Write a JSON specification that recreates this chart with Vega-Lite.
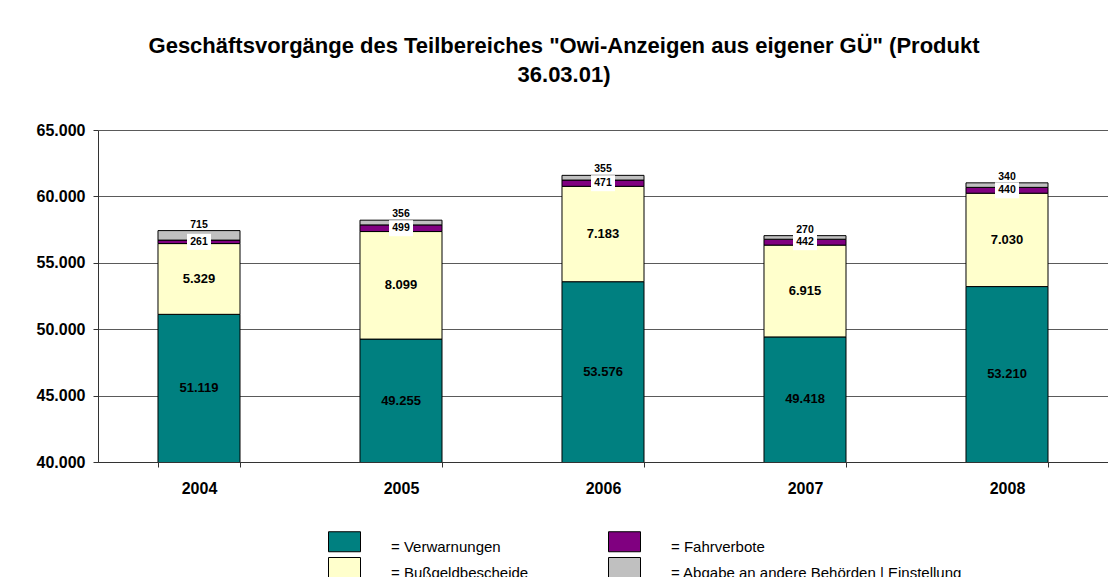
{
  "$schema": "https://vega.github.io/schema/vega-lite/v6.json",
  "width": 1010,
  "height": 332,
  "autosize": "none",
  "padding": {"left": 98, "top": 130, "right": 0, "bottom": 115},
  "background": "white",
  "config": {
    "font": "Liberation Sans",
    "view": {"stroke": null},
    "locale": {"number": {"decimal": ",", "thousands": ".", "grouping": [3], "currency": ["", " €"]}}
  },
  "title": {
    "text": ["Geschäftsvorgänge des Teilbereiches \"Owi-Anzeigen aus eigener GÜ\" (Produkt", "36.03.01)"],
    "fontSize": 22,
    "fontWeight": "bold",
    "lineHeight": 29,
    "color": "black",
    "anchor": "middle",
    "frame": "bounds",
    "dx": -8,
    "offset": 35
  },
  "data": {
    "values": [
      {"Jahr": "2004", "Kategorie": "Verwarnungen", "ord": 1, "Anzahl": 51119},
      {"Jahr": "2004", "Kategorie": "Bußgeldbescheide", "ord": 2, "Anzahl": 5329},
      {"Jahr": "2004", "Kategorie": "Fahrverbote", "ord": 3, "Anzahl": 261},
      {"Jahr": "2004", "Kategorie": "Abgabe an andere Behörden | Einstellung", "ord": 4, "Anzahl": 715},
      {"Jahr": "2005", "Kategorie": "Verwarnungen", "ord": 1, "Anzahl": 49255},
      {"Jahr": "2005", "Kategorie": "Bußgeldbescheide", "ord": 2, "Anzahl": 8099},
      {"Jahr": "2005", "Kategorie": "Fahrverbote", "ord": 3, "Anzahl": 499},
      {"Jahr": "2005", "Kategorie": "Abgabe an andere Behörden | Einstellung", "ord": 4, "Anzahl": 356},
      {"Jahr": "2006", "Kategorie": "Verwarnungen", "ord": 1, "Anzahl": 53576},
      {"Jahr": "2006", "Kategorie": "Bußgeldbescheide", "ord": 2, "Anzahl": 7183},
      {"Jahr": "2006", "Kategorie": "Fahrverbote", "ord": 3, "Anzahl": 471},
      {"Jahr": "2006", "Kategorie": "Abgabe an andere Behörden | Einstellung", "ord": 4, "Anzahl": 355},
      {"Jahr": "2007", "Kategorie": "Verwarnungen", "ord": 1, "Anzahl": 49418},
      {"Jahr": "2007", "Kategorie": "Bußgeldbescheide", "ord": 2, "Anzahl": 6915},
      {"Jahr": "2007", "Kategorie": "Fahrverbote", "ord": 3, "Anzahl": 442},
      {"Jahr": "2007", "Kategorie": "Abgabe an andere Behörden | Einstellung", "ord": 4, "Anzahl": 270},
      {"Jahr": "2008", "Kategorie": "Verwarnungen", "ord": 1, "Anzahl": 53210},
      {"Jahr": "2008", "Kategorie": "Bußgeldbescheide", "ord": 2, "Anzahl": 7030},
      {"Jahr": "2008", "Kategorie": "Fahrverbote", "ord": 3, "Anzahl": 440},
      {"Jahr": "2008", "Kategorie": "Abgabe an andere Behörden | Einstellung", "ord": 4, "Anzahl": 340}
    ]
  },
  "transform": [
    {"stack": "Anzahl", "groupby": ["Jahr"], "sort": [{"field": "ord", "order": "ascending"}], "as": ["y0", "y1"]},
    {"calculate": "(max(datum.y0, 40000) + datum.y1) / 2", "as": "mid"}
  ],
  "encoding": {
    "x": {
      "field": "Jahr",
      "type": "nominal",
      "title": null,
      "scale": {"paddingInner": 0.594, "paddingOuter": 0.297},
      "axis": {
        "labelAngle": 0,
        "labelFontSize": 16,
        "labelFontWeight": "bold",
        "labelColor": "black",
        "labelPadding": 13,
        "tickBand": "extent",
        "tickSize": 5,
        "tickColor": "#333333",
        "domainColor": "#333333",
        "grid": false
      }
    }
  },
  "layer": [
    {
      "mark": {"type": "bar", "clip": true, "stroke": "black", "strokeWidth": 1},
      "encoding": {
        "y": {
          "field": "y1",
          "type": "quantitative",
          "title": null,
          "scale": {"domain": [40000, 65000], "nice": false, "zero": false},
          "axis": {
            "values": [40000, 45000, 50000, 55000, 60000, 65000],
            "format": ",d",
            "labelFontSize": 16,
            "labelFontWeight": "bold",
            "labelColor": "black",
            "labelPadding": 8,
            "tickSize": 5,
            "tickColor": "#333333",
            "domainColor": "#333333",
            "gridColor": "#5a5a5a",
            "gridOpacity": 1
          }
        },
        "y2": {"field": "y0"},
        "color": {
          "field": "Kategorie",
          "type": "nominal",
          "scale": {
            "domain": ["Verwarnungen", "Fahrverbote", "Bußgeldbescheide", "Abgabe an andere Behörden | Einstellung"],
            "range": ["#008080", "#800080", "#FFFFCC", "#C0C0C0"]
          },
          "legend": {
            "title": null,
            "orient": "none",
            "legendX": 236,
            "legendY": 406,
            "direction": "horizontal",
            "columns": 2,
            "padding": 0,
            "columnPadding": 77,
            "rowPadding": 0,
            "symbolType": "M-1.6,-1.5H1.6V0.5H-1.6Z",
            "symbolSize": 400,
            "symbolStrokeWidth": 1,
            "symbolOpacity": 1,
            "labelFontSize": 15,
            "labelColor": "black",
            "labelOffset": 36,
            "labelBaseline": "middle",
            "labelLimit": 400,
            "labelExpr": "'= ' + datum.label",
            "encode": {
              "symbols": {
                "update": {
                  "stroke": {"signal": "datum.value === 'Bußgeldbescheide' ? 'black' : 'transparent'"}
                }
              }
            }
          }
        }
      }
    },
    {
      "transform": [{"filter": "datum.ord <= 2"}],
      "mark": {"type": "text", "fontSize": 13, "fontWeight": "bold", "color": "black"},
      "encoding": {
        "y": {"field": "mid", "type": "quantitative"},
        "text": {"field": "Anzahl", "type": "quantitative", "format": ",d"}
      }
    },
    {
      "transform": [{"filter": "datum.ord == 3"}],
      "mark": {"type": "point", "shape": "M-1,-0.667H1V0.667H-1Z", "size": 576, "filled": true, "color": "white", "opacity": 1, "strokeWidth": 0},
      "encoding": {
        "y": {"field": "mid", "type": "quantitative"}
      }
    },
    {
      "transform": [{"filter": "datum.ord == 3"}],
      "mark": {"type": "text", "fontSize": 10.5, "fontWeight": "bold", "color": "black"},
      "encoding": {
        "y": {"field": "mid", "type": "quantitative"},
        "text": {"field": "Anzahl", "type": "quantitative", "format": ",d"}
      }
    },
    {
      "transform": [{"filter": "datum.ord == 4"}],
      "mark": {"type": "text", "fontSize": 10.5, "fontWeight": "bold", "color": "black", "baseline": "bottom", "dy": -1},
      "encoding": {
        "y": {"field": "y1", "type": "quantitative"},
        "text": {"field": "Anzahl", "type": "quantitative", "format": ",d"}
      }
    }
  ]
}
